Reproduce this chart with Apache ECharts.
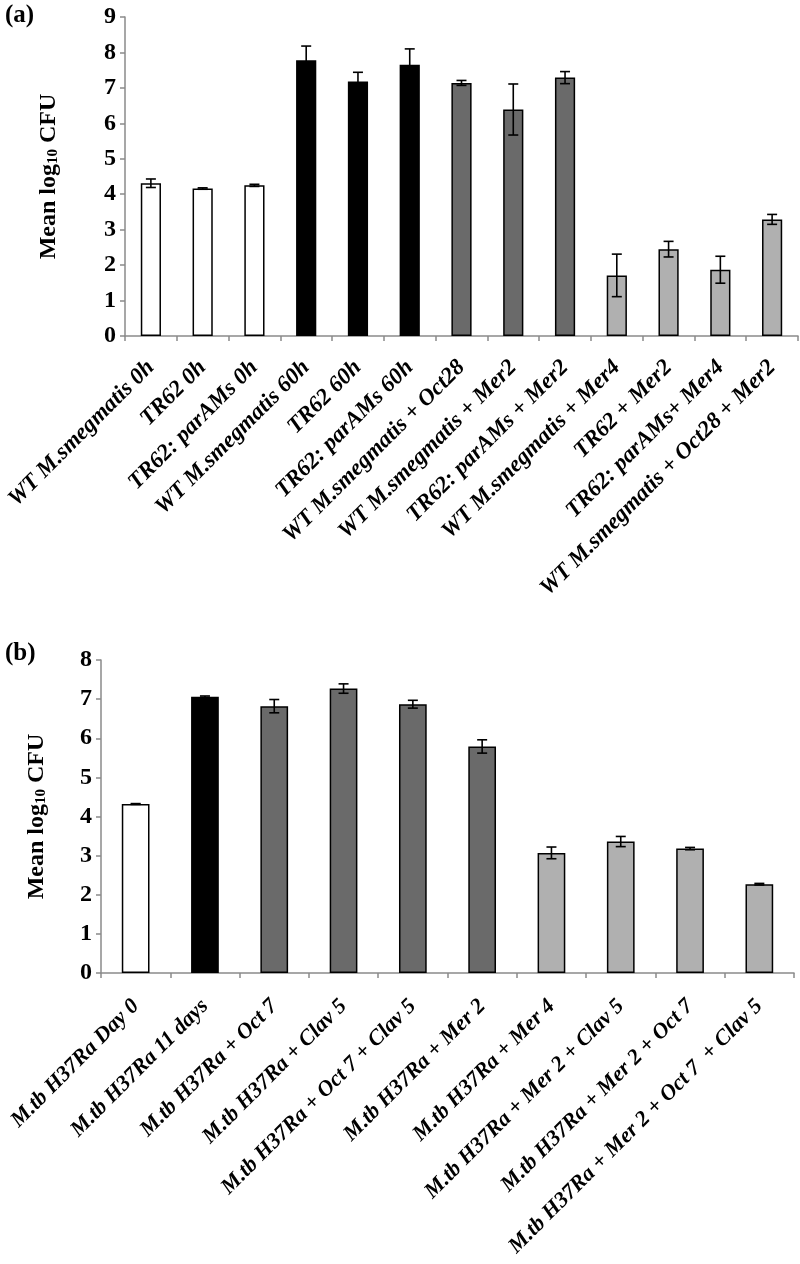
<!DOCTYPE html>
<html>
<head>
<meta charset="utf-8">
<script src="https://cdn.jsdelivr.net/npm/echarts@6/dist/echarts.min.js"></script>
<style>html,body{margin:0;padding:0;background:#fff}#c{width:800px;height:1264px}</style>
</head>
<body>
<div id="c"></div>
<script>
// ---- data (a) ----
const catsA = ['WT M.smegmatis 0h','TR62 0h','TR62: parAMs 0h','WT M.smegmatis 60h','TR62 60h','TR62: parAMs 60h','WT M.smegmatis + Oct28','WT M.smegmatis + Mer2','TR62: parAMs + Mer2','WT M.smegmatis + Mer4','TR62 + Mer2','TR62: parAMs+ Mer4','WT M.smegmatis + Oct28 + Mer2'];
const valsA = [4.31, 4.16, 4.25, 7.78, 7.18, 7.65, 7.14, 6.39, 7.29, 1.71, 2.45, 1.87, 3.29];
const errA  = [0.12, 0.02, 0.03, 0.40, 0.26, 0.45, 0.07, 0.72, 0.17, 0.60, 0.22, 0.38, 0.14];
const groupA = [0,0,0,1,1,1,2,2,2,3,3,3,3];
const ticksA = [0,1,2,3,4,5,6,7,8,9];
// ---- data (b) ----
const catsB = ['M.tb H37Ra Day 0','M.tb H37Ra 11 days','M.tb H37Ra + Oct 7','M.tb H37Ra + Clav 5','M.tb H37Ra + Oct 7 + Clav 5','M.tb H37Ra + Mer 2','M.tb H37Ra + Mer 4','M.tb H37Ra + Mer 2 + Clav 5','M.tb H37Ra + Mer 2 + Oct 7','M.tb H37Ra + Mer 2 + Oct 7  + Clav 5'];
const valsB = [4.32, 7.06, 6.82, 7.27, 6.87, 5.79, 3.07, 3.36, 3.18, 2.27];
const errB  = [0.01, 0.02, 0.17, 0.12, 0.10, 0.17, 0.15, 0.13, 0.03, 0.02];
const groupB = [0,1,2,2,2,2,3,3,3,3];
const ticksB = [0,1,2,3,4,5,6,7,8];

const palette = ['#ffffff', '#000000', '#6a6a6a', '#b0b0b0'];
const FONT = "'Liberation Serif','Times New Roman',serif";
const axisGray = '#8a8a8a';

function errRender(params, api) {
  const x = api.value(0), v = api.value(1), e = api.value(2);
  const top = api.coord([x, v + e]);
  const bot = api.coord([x, v - e]);
  const hw = 5;
  const st = {stroke: '#000', lineWidth: 1.6};
  return {type: 'group', children: [
    {type: 'line', shape: {x1: top[0], y1: top[1], x2: bot[0], y2: bot[1]}, style: st},
    {type: 'line', shape: {x1: top[0] - hw, y1: top[1], x2: top[0] + hw, y2: top[1]}, style: st},
    {type: 'line', shape: {x1: bot[0] - hw, y1: bot[1], x2: bot[0] + hw, y2: bot[1]}, style: st}
  ]};
}

function xAxisCfg(cats, idx, fs, margin) {
  return {
    type: 'category', gridIndex: idx, data: cats,
    axisLine: {lineStyle: {color: axisGray, width: 1.5}},
    axisTick: {show: true, length: 5, lineStyle: {color: axisGray, width: 1.5}},
    axisLabel: {interval: 0, rotate: 45, margin: margin, color: '#000', fontFamily: FONT,
      fontWeight: 'bold', fontStyle: 'italic', fontSize: fs}
  };
}
function yAxisCfg(ticks, idx, gap) {
  return {
    type: 'value', gridIndex: idx, min: ticks[0], max: ticks[ticks.length - 1], interval: 1,
    splitLine: {show: false},
    axisLine: {show: true, lineStyle: {color: axisGray, width: 1.5}},
    axisTick: {show: true, length: 5, lineStyle: {color: axisGray, width: 1.5}},
    axisLabel: {color: '#000', fontFamily: FONT, fontWeight: 'bold', fontSize: 24, margin: 9},
    name: '{m|Mean log}{s|10}{m| CFU}', nameLocation: 'middle', nameRotate: 90, nameGap: gap,
    nameTextStyle: {
      rich: {
        m: {fontFamily: FONT, fontWeight: 'bold', fontSize: 24, color: '#000'},
        s: {fontFamily: FONT, fontWeight: 'bold', fontSize: 15, color: '#000', verticalAlign: 'bottom', padding: [9, 0, 0, 0]}
      }
    }
  };
}

const chart = echarts.init(document.getElementById('c'), null, {renderer: 'canvas'});
chart.setOption({
  backgroundColor: '#fff',
  animation: false,
  title: [
    {text: '(a)', left: 0, top: -2, textStyle: {fontFamily: FONT, fontWeight: 'bold', fontSize: 25, color: '#000'}},
    {text: '(b)', left: 0, top: 636, textStyle: {fontFamily: FONT, fontWeight: 'bold', fontSize: 25, color: '#000'}}
  ],
  grid: [
    {left: 125, top: 17, width: 673, height: 319},
    {left: 101, top: 660, width: 693, height: 313}
  ],
  xAxis: [xAxisCfg(catsA, 0, 23, 28), xAxisCfg(catsB, 1, 22, 30)],
  yAxis: [yAxisCfg(ticksA, 0, 64), yAxisCfg(ticksB, 1, 52)],
  series: [
    {type: 'bar', xAxisIndex: 0, yAxisIndex: 0, barWidth: '39%',
      data: valsA.map((v, i) => ({value: v, itemStyle: {color: palette[groupA[i]], borderColor: '#000', borderWidth: 1.5}}))},
    {type: 'custom', xAxisIndex: 0, yAxisIndex: 0, renderItem: errRender, z: 5,
      data: valsA.map((v, i) => [i, v, errA[i]])},
    {type: 'bar', xAxisIndex: 1, yAxisIndex: 1, barWidth: '40%',
      data: valsB.map((v, i) => ({value: v, itemStyle: {color: palette[groupB[i]], borderColor: '#000', borderWidth: 1.5}}))},
    {type: 'custom', xAxisIndex: 1, yAxisIndex: 1, renderItem: errRender, z: 5,
      data: valsB.map((v, i) => [i, v, errB[i]])}
  ]
});
</script>
</body>
</html>
